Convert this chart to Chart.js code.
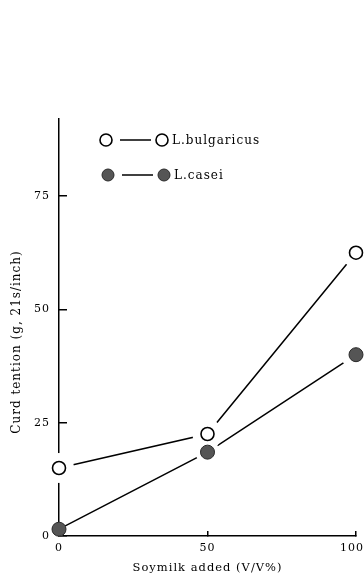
<!DOCTYPE html>
<html>
<head>
<meta charset="utf-8">
<script src="https://cdn.jsdelivr.net/npm/chart.js@4/dist/chart.umd.min.js"></script>
<style>
  html, body { margin: 0; padding: 0; background: #fff; }
  #wrap { width: 364px; height: 581px; }
</style>
</head>
<body>
<div id="wrap"><canvas id="curd"></canvas></div>
<script>
// soymilk added (V/V%) and curd tension readings
const soymilk = [0, 50, 100];
const bulgaricus = [15, 22.5, 62.5];
const casei = [1.5, 18.5, 40];
const yTicks = [0, 25, 50, 75];
const xTicks = [0, 50, 100];
const seriesNames = ['L.bulgaricus', 'L.casei'];
const yTitle = 'Curd tention (g, 21s/inch)';

const serif = '"DejaVu Serif", "Liberation Serif", serif';
const caseiFill = '#555555';

const pts = vals => soymilk.map((x, i) => ({ x: x, y: vals[i] }));

// lines first, then white halos so the lines stop short of the markers, markers on top
const datasets = [
  { label: seriesNames[0], data: pts(bulgaricus), order: 0, showLine: false,
    pointRadius: 6.5, pointBackgroundColor: '#fff', pointBorderColor: '#000', pointBorderWidth: 1.6, clip: false },
  { label: seriesNames[1], data: pts(casei), order: 0, showLine: false,
    pointRadius: 7, pointBackgroundColor: caseiFill, pointBorderColor: '#2a2a2a', pointBorderWidth: 1, clip: false },
  { label: 'halo1', data: pts(bulgaricus), order: 1, showLine: false,
    pointRadius: 15, pointBackgroundColor: '#fff', pointBorderWidth: 0, clip: false },
  { label: 'halo2', data: pts(casei), order: 1, showLine: false,
    pointRadius: [7, 12, 15], pointBackgroundColor: '#fff', pointBorderWidth: 0, clip: false },
  { label: 'line1', data: pts(bulgaricus), order: 2, showLine: true, pointRadius: 0,
    borderColor: '#000', borderWidth: 1.5, clip: false },
  { label: 'line2', data: pts(casei), order: 2, showLine: true, pointRadius: 0,
    borderColor: '#000', borderWidth: 1.5, clip: false }
];

// the printed figure has widely spaced lettering (only while drawing, not while measuring)
const spacing = {
  id: 'spacing',
  beforeDraw(chart) { chart.ctx.letterSpacing = '1px'; },
  afterDraw(chart) { chart.ctx.letterSpacing = '0px'; }
};

// hand drawn style legend: marker —— marker  name, y title a bit below centre,
// x tick labels drawn here so "100" may hang over the right edge like in the print
const markerLegend = {
  id: 'markerLegend',
  afterDraw(chart) {
    const c = chart.ctx;
    const rows = [
      { y: 140, x: 106, ds: chart.data.datasets[0] },
      { y: 175, x: 108, ds: chart.data.datasets[1] }
    ];
    c.save();
    c.letterSpacing = '1px';
    rows.forEach(r => {
      const dot = cx => {
        c.beginPath();
        c.arc(cx, r.y, 6, 0, Math.PI * 2);
        c.fillStyle = r.ds.pointBackgroundColor;
        c.fill();
        c.lineWidth = r.ds.pointBorderWidth;
        c.strokeStyle = r.ds.pointBorderColor;
        c.stroke();
      };
      dot(r.x);
      c.beginPath();
      c.moveTo(r.x + 14, r.y);
      c.lineTo(r.x + 45, r.y);
      c.lineWidth = 1.5;
      c.strokeStyle = '#000';
      c.stroke();
      dot(r.x + 56);
      c.fillStyle = '#000';
      c.font = '12px ' + serif;
      c.textBaseline = 'middle';
      c.textAlign = 'left';
      c.fillText(r.ds.label, r.x + 66, r.y + 1);
    });

    const xs = chart.scales.x;
    c.font = '11px ' + serif;
    c.textAlign = 'center';
    c.textBaseline = 'middle';
    xTicks.forEach(v => {
      const px = xs.getPixelForValue(v);
      c.fillText(String(v), v === 100 ? px - 4 : px, xs.top + 12);
    });

    c.translate(17, 342);
    c.rotate(-Math.PI / 2);
    c.font = '12px ' + serif;
    c.fillText(yTitle, 0, 0);
    c.restore();
  }
};

new Chart(document.getElementById('curd'), {
  type: 'scatter',
  data: { datasets: datasets },
  options: {
    responsive: true,
    maintainAspectRatio: false,
    animation: false,
    layout: { autoPadding: false, padding: { top: 119, right: 8, left: 6, bottom: 2 } },
    scales: {
      x: {
        type: 'linear', min: 0, max: 100,
        afterBuildTicks: s => { s.ticks = xTicks.map(v => ({ value: v })); },
        afterFit: s => { s.height = 43; },
        border: { display: true, color: '#000', width: 1.5 },
        grid: { drawOnChartArea: false, drawTicks: true, tickLength: -5, color: '#000', lineWidth: 1.5 },
        ticks: { display: false },
        title: { display: true, text: 'Soymilk added (V/V%)', color: '#000',
          font: { family: serif, size: 11.5 }, padding: { top: 5 } }
      },
      y: {
        type: 'linear', min: 0, max: 92,
        afterBuildTicks: s => { s.ticks = yTicks.map(v => ({ value: v })); },
        afterFit: s => { s.width = 53; },
        border: { display: true, color: '#000', width: 1.5 },
        grid: { drawOnChartArea: false, drawTicks: true, tickLength: -8, color: '#000', lineWidth: 1.5 },
        ticks: { color: '#000', padding: 17, font: { family: serif, size: 11 } },
        title: { display: false }
      }
    },
    plugins: {
      legend: { display: false },
      tooltip: { enabled: false }
    }
  },
  plugins: [spacing, markerLegend]
});
</script>
</body>
</html>
